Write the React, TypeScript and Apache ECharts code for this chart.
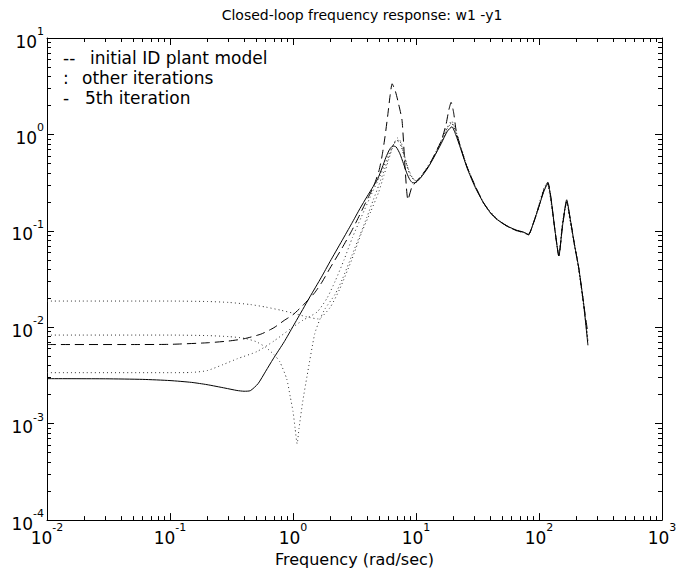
import React, { useEffect, useRef } from "react";
import * as echarts from "echarts";

const titleText = "Closed-loop frequency response: w1 -y1";
const xAxisTitle = "Frequency (rad/sec)";

const X_MIN = 0.01;
const X_MAX = 1000;
const Y_MIN = 0.0001;
const Y_MAX = 10;

const legendSymbols = ["--", ":", "-"];
const legendLabels = ["initial ID plant model", "other iterations", "5th iteration"];

// 5th iteration (solid)
const solidFreq = [0.01, 0.03, 0.06, 0.1, 0.15, 0.2, 0.28, 0.35, 0.4, 0.45, 0.52, 0.6, 0.69, 0.85, 1.0, 1.2, 1.37, 1.7, 2.0, 2.5, 3.0, 3.5, 4.0, 4.5, 4.9, 5.3, 5.7, 6.1, 6.5, 6.9, 7.4, 7.9, 8.4, 8.9, 9.4, 10, 11, 12.5, 14, 16, 18, 19.6, 21, 23, 26, 30, 35, 40, 46, 55, 65, 75, 82, 90, 100, 110, 118, 125, 135, 145, 155, 168, 180, 195, 210, 230, 250];
const solidMag = [0.00293, 0.00292, 0.00288, 0.0028, 0.00268, 0.00254, 0.00234, 0.00221, 0.00217, 0.0022, 0.0026, 0.0035, 0.0047, 0.0071, 0.0102, 0.0153, 0.0206, 0.033, 0.048, 0.079, 0.119, 0.17, 0.227, 0.29, 0.35, 0.45, 0.58, 0.7, 0.76, 0.74, 0.63, 0.5, 0.4, 0.34, 0.315, 0.318, 0.36, 0.45, 0.58, 0.8, 1.08, 1.2, 1.0, 0.72, 0.45, 0.29, 0.2, 0.155, 0.13, 0.112, 0.102, 0.097, 0.092, 0.12, 0.18, 0.26, 0.31, 0.22, 0.1, 0.055, 0.11, 0.21, 0.13, 0.07, 0.042, 0.018, 0.0065];

// initial ID plant model (dashed)
const dashedFreq = [0.01, 0.05, 0.1, 0.2, 0.3, 0.4, 0.55, 0.7, 0.85, 1.0, 1.2, 1.5, 1.72, 2.0, 2.5, 3.0, 3.5, 4.0, 4.5, 5.0, 5.3, 5.6, 5.9, 6.15, 6.4, 6.8, 7.2, 7.7, 8.15, 8.6, 9.3, 10, 11, 12.5, 14, 16, 17.5, 18.5, 19.3, 20.2, 21.2, 23, 26, 30, 35, 40, 46, 55, 65, 75, 82, 90, 100, 110, 118, 125, 135, 145, 155, 168, 180, 195, 210, 230, 250];
const dashedMag = [0.00662, 0.00662, 0.00665, 0.0069, 0.0072, 0.0076, 0.0085, 0.0099, 0.0118, 0.0135, 0.0168, 0.0228, 0.0294, 0.041, 0.066, 0.1, 0.148, 0.21, 0.285, 0.42, 0.6, 0.95, 1.6, 2.5, 3.35, 2.8, 2.1, 1.4, 0.45, 0.21, 0.29, 0.32, 0.37, 0.46, 0.6, 0.85, 1.25, 1.8, 2.15, 1.7, 1.1, 0.74, 0.46, 0.3, 0.2, 0.156, 0.13, 0.112, 0.101, 0.096, 0.091, 0.12, 0.18, 0.27, 0.32, 0.22, 0.1, 0.055, 0.11, 0.2, 0.13, 0.07, 0.042, 0.018, 0.0085];

// other iterations (dotted)
const dotAFreq = [0.01, 0.1, 0.2, 0.3, 0.45, 0.6, 0.8, 1.0, 1.3, 1.6, 2.0, 2.4, 3.0, 3.66, 4.3, 4.96, 5.5, 6.0, 6.6, 7.1, 7.6, 8.3, 9.0, 10, 11, 12.5, 14, 16, 18, 19.5, 21, 23, 26, 30, 35, 40, 46, 55, 65, 75, 82, 90, 100, 110, 116, 125, 135, 145, 155, 168, 180, 195, 210, 230, 250];
const dotAMag = [0.0187, 0.0187, 0.0185, 0.0181, 0.0172, 0.0162, 0.015, 0.014, 0.0128, 0.0122, 0.016, 0.025, 0.05, 0.1, 0.16, 0.25, 0.38, 0.55, 0.8, 0.92, 0.82, 0.52, 0.38, 0.33, 0.37, 0.47, 0.6, 0.86, 1.2, 1.38, 1.1, 0.76, 0.47, 0.3, 0.2, 0.16, 0.132, 0.113, 0.102, 0.096, 0.09, 0.12, 0.19, 0.28, 0.31, 0.2, 0.1, 0.056, 0.12, 0.2, 0.12, 0.068, 0.04, 0.017, 0.0075];

const dotBFreq = [0.01, 0.1, 0.2, 0.3, 0.4, 0.5, 0.6, 0.7, 0.78, 0.89, 0.95, 1.0, 1.04, 1.08, 1.12, 1.2, 1.3, 1.5, 1.65, 1.82, 2.2, 2.52, 3.0, 3.5, 4.0, 4.5, 5.0, 5.6, 6.2, 6.8, 7.3, 7.9, 8.6, 9.4, 10, 11, 12.5, 14, 16, 18, 19.5, 21, 23, 26, 30, 35, 40, 46, 55, 65, 75, 82, 90, 100, 110, 118, 125, 135, 145, 155, 168, 180, 195, 210, 230, 250];
const dotBMag = [0.0083, 0.0083, 0.0082, 0.008, 0.0077, 0.0071, 0.0062, 0.0052, 0.0044, 0.0029, 0.0019, 0.00134, 0.0009, 0.00062, 0.0009, 0.0017, 0.0031, 0.0085, 0.012, 0.0155, 0.022, 0.0316, 0.055, 0.09, 0.14, 0.21, 0.3, 0.45, 0.65, 0.85, 0.87, 0.65, 0.45, 0.35, 0.33, 0.36, 0.46, 0.59, 0.83, 1.15, 1.3, 1.05, 0.74, 0.46, 0.3, 0.2, 0.157, 0.131, 0.112, 0.101, 0.096, 0.091, 0.12, 0.18, 0.27, 0.31, 0.21, 0.1, 0.055, 0.115, 0.2, 0.125, 0.07, 0.041, 0.018, 0.007];

const dotCFreq = [0.01, 0.1, 0.15, 0.2, 0.27, 0.35, 0.51, 0.7, 0.95, 1.2, 1.57, 1.89, 2.2, 2.6, 3.04, 3.6, 4.47, 5.0, 5.5, 6.0, 6.6, 7.1, 7.6, 8.3, 9.0, 10, 11, 12.5, 14, 16, 18, 19.5, 21, 23, 26, 30, 35, 40, 46, 55, 65, 75, 82, 90, 100, 110, 118, 125, 135, 145, 155, 168, 180, 195, 210, 230, 250];
const dotCMag = [0.00338, 0.00338, 0.0034, 0.00355, 0.0041, 0.0047, 0.0056, 0.0072, 0.0096, 0.0118, 0.0144, 0.02, 0.03, 0.05, 0.085, 0.14, 0.26, 0.35, 0.47, 0.62, 0.8, 0.85, 0.74, 0.5, 0.37, 0.33, 0.36, 0.46, 0.59, 0.84, 1.17, 1.33, 1.07, 0.75, 0.46, 0.3, 0.2, 0.157, 0.131, 0.112, 0.101, 0.096, 0.091, 0.12, 0.18, 0.27, 0.31, 0.21, 0.1, 0.055, 0.115, 0.2, 0.125, 0.07, 0.041, 0.018, 0.007];

const FONT = "DejaVu Sans";

const zip = (xs: number[], ys: number[]) => xs.map((x, i) => [x, ys[i]]);

const expLabel = (v: number) => {
  const e = Math.round(Math.log10(v));
  return `{b|10}{s|${e}}`;
};

const richLabel = {
  b: { fontSize: 17, fontFamily: FONT, color: "#000", lineHeight: 24, verticalAlign: "bottom" },
  s: { fontSize: 11, fontFamily: FONT, color: "#000", lineHeight: 12, verticalAlign: "top" },
};

export default function App() {
  const ref = useRef<HTMLDivElement>(null);

  useEffect(() => {
    document.body.style.margin = "0";
    const chart = echarts.init(ref.current!, undefined, { renderer: "svg" });

    const lineSeries = (name: string, data: number[][], type: any, color: string) => ({
      name,
      type: "line",
      data,
      showSymbol: false,
      symbol: "none",
      smooth: 0.2,
      xAxisIndex: 0,
      yAxisIndex: 0,
      lineStyle: { color, width: 1, type },
      z: 3,
    });

    // minor ticks: 9 linear splits inside each decade -> 2..9 x 10^k
    const axisBase = {
      type: "log",
      logBase: 10,
      axisLine: { show: true, onZero: false, lineStyle: { color: "#000", width: 1 } },
      axisTick: { show: true, inside: true, length: 7, lineStyle: { color: "#000", width: 1 } },
      minorTick: { show: true, splitNumber: 9, length: 4, lineStyle: { color: "#000", width: 1 } },
      splitLine: { show: false },
      minorSplitLine: { show: false },
    };

    const legendGraphics: any[] = legendSymbols.flatMap((sym, i) => [
      {
        type: "text",
        x: 63,
        y: 49 + i * 20,
        style: { text: sym, font: `17px "${FONT}"`, fill: "#000" },
      },
      {
        type: "text",
        x: [90, 82, 85][i],
        y: 49 + i * 20,
        style: { text: legendLabels[i], font: `17px "${FONT}"`, fill: "#000" },
      },
    ]);

    chart.setOption({
      animation: false,
      backgroundColor: "#fff",
      title: {
        text: titleText,
        left: 357,
        textAlign: "center",
        top: 3,
        textStyle: { fontFamily: FONT, fontSize: 14, fontWeight: "normal", color: "#000" },
      },
      grid: { left: 47, right: 18, top: 38, bottom: 50, containLabel: false },
      xAxis: [
        {
          ...axisBase,
          min: X_MIN,
          max: X_MAX,
          position: "bottom",
          name: xAxisTitle,
          nameLocation: "middle",
          nameGap: 28,
          nameTextStyle: { fontFamily: FONT, fontSize: 16, color: "#000" },
          axisLabel: { margin: 2, formatter: expLabel, rich: richLabel },
        },
        {
          ...axisBase,
          min: X_MIN,
          max: X_MAX,
          position: "top",
          axisLabel: { show: false },
        },
      ],
      yAxis: [
        {
          ...axisBase,
          min: Y_MIN,
          max: Y_MAX,
          position: "left",
          axisLabel: { margin: 3, formatter: expLabel, rich: richLabel },
        },
        {
          ...axisBase,
          min: Y_MIN,
          max: Y_MAX,
          position: "right",
          axisLabel: { show: false },
        },
      ],
      graphic: legendGraphics,
      series: [
        lineSeries("other iterations A", zip(dotAFreq, dotAMag), [1, 3], "#333"),
        lineSeries("other iterations B", zip(dotBFreq, dotBMag), [1, 3], "#333"),
        lineSeries("other iterations C", zip(dotCFreq, dotCMag), [1, 3], "#333"),
        lineSeries("initial ID plant model", zip(dashedFreq, dashedMag), [9, 5], "#000"),
        lineSeries("5th iteration", zip(solidFreq, solidMag), "solid", "#000"),
      ],
    });

    return () => chart.dispose();
  }, []);

  return <div ref={ref} style={{ width: 680, height: 572 }} />;
}
